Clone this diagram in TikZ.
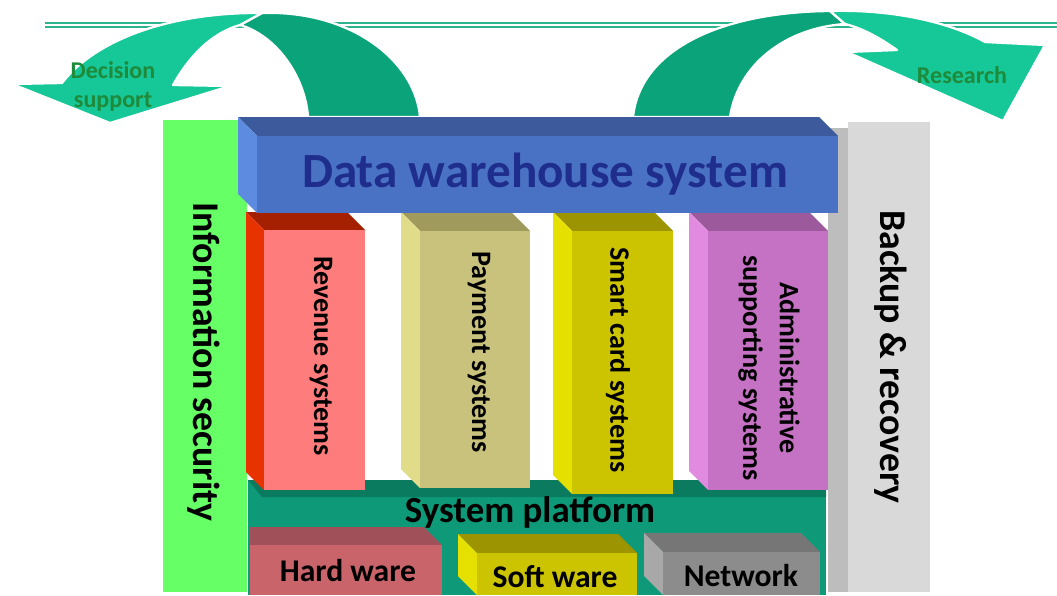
\documentclass[tikz,border=0pt]{standalone}
\usepackage{fontspec}
\setmainfont{Carlito}
\usetikzlibrary{calc}

\definecolor{rulegreen}{HTML}{2DB48E}
\definecolor{arrowfront}{HTML}{16C797}
\definecolor{arrowback}{HTML}{0BA37A}
\definecolor{labelgreen}{HTML}{1E8A3A}
\definecolor{infogreen}{HTML}{66FF66}
\definecolor{backfront}{HTML}{D9D9D9}
\definecolor{backside}{HTML}{BDBDBD}
\definecolor{dwfront}{HTML}{4A72C4}
\definecolor{dwtop}{HTML}{3D5B9C}
\definecolor{dwside}{HTML}{5C8BE0}
\definecolor{dwtext}{HTML}{1F2E8C}
\definecolor{revfront}{HTML}{FF7C7C}
\definecolor{revtop}{HTML}{A52000}
\definecolor{revside}{HTML}{E63300}
\definecolor{payfront}{HTML}{C8C27C}
\definecolor{paytop}{HTML}{A09A5C}
\definecolor{payside}{HTML}{E0DC8A}
\definecolor{smfront}{HTML}{CCC400}
\definecolor{smtop}{HTML}{9C9400}
\definecolor{smside}{HTML}{E6E000}
\definecolor{admfront}{HTML}{C572C5}
\definecolor{admtop}{HTML}{9C5A9C}
\definecolor{admside}{HTML}{E08AE0}
\definecolor{platform}{HTML}{0E9A78}
\definecolor{platformtop}{HTML}{0B7B5F}
\definecolor{hwfront}{HTML}{C8646A}
\definecolor{hwtop}{HTML}{A05058}
\definecolor{netfront}{HTML}{8C8C8C}
\definecolor{nettop}{HTML}{767676}
\definecolor{netside}{HTML}{A8A8A8}

% 3D slab: front x1,y1,x2,y2, depth, front, top, side colour
\newcommand{\slab}[8]{%
  \fill[#7] (#1-#5,#2-#5) -- (#3-#5,#2-#5) -- (#3,#2) -- (#1,#2) -- cycle;
  \fill[#8] (#1-#5,#2-#5) -- (#1,#2) -- (#1,#4) -- (#1-#5,#4-#5) -- cycle;
  \fill[#6] (#1,#2) rectangle (#3,#4);
}

\begin{document}
\begin{tikzpicture}[x=0.02cm, y=-0.02cm]
% -------------------------------------------------
\tikzset{
  band/.style={draw=white, line width=1.3pt, line join=round},
  lbl/.style={inner sep=0pt, align=center},
  vlbl/.style={lbl, rotate=-90},
  titlefont/.style={font=\bfseries\fontsize{28}{32}\selectfont},
  barfont/.style={font=\bfseries\fontsize{21.5}{25}\selectfont},
  pillarfont/.style={font=\bfseries\fontsize{16}{21}\selectfont},
  basefont/.style={font=\bfseries\fontsize{18}{22}\selectfont},
  arrowfont/.style={font=\bfseries\fontsize{13.7}{16.5}\selectfont}
}
% -------------------------------------------------
\useasboundingbox (0,0) rectangle (1057,595);
\fill[white] (0,0) rectangle (1057,595);

% top rule
\draw[rulegreen, line width=1pt] (45,23) -- (1057,23);
\draw[rulegreen, line width=1pt] (45,27) -- (1057,27);

% side bars
\fill[infogreen] (163,120) rectangle (247,592);
\fill[backside] (828,128) rectangle (848,592);
\fill[backfront] (848,122) rectangle (930,592);

% curved arrows
\path[band, fill=arrowback] (308,117) .. controls (305,75) and (275,35) .. (240,25)
  -- (262,13) .. controls (350,10) and (415,60) .. (420,117) -- cycle;
\path[band, fill=arrowfront] (262,13) .. controls (170,12) and (95,40) .. (62,83)
  -- (12,84) -- (110,123) -- (230,86) -- (173,85)
  .. controls (190,55) and (212,33) .. (240,25) -- cycle;
\path[band, fill=arrowback] (633,117) .. controls (640,50) and (720,12) .. (830,11)
  -- (845,24) .. controls (785,28) and (738,65) .. (730,117) -- cycle;
\path[band, fill=arrowfront] (830,11) .. controls (900,9) and (955,25) .. (985,42)
  -- (1045,45) -- (1003,121) -- (847,52) -- (897,50)
  .. controls (880,38) and (862,28) .. (845,24) -- cycle;

% platform
\fill[platform] (248,480) rectangle (826,595);
\fill[platformtop] (248,480) -- (826,480) -- (826,497) -- (262,497) -- cycle;

% pillars
\slab{264}{230}{365}{490}{18}{revfront}{revtop}{revside}
\slab{420}{231}{530}{488}{19}{payfront}{paytop}{payside}
\slab{572}{231}{673}{494}{19}{smfront}{smtop}{smside}
\slab{708}{231}{828}{490}{19}{admfront}{admtop}{admside}

% base blocks
\fill[hwtop] (250,527) -- (424,527) -- (442,545) -- (250,545) -- cycle;
\fill[hwfront] (250,545) rectangle (442,595);
\slab{477}{553}{637}{595}{19}{smfront}{smtop}{smside}
\slab{663}{552}{820}{595}{19}{netfront}{nettop}{netside}

% roof
\slab{257}{136}{838}{213}{19}{dwfront}{dwtop}{dwside}

% labels
\node[lbl, titlefont, text=dwtext] (dws) at (545,174) {Data warehouse system};
\node[vlbl, barfont] (sec) at (204,362) {Information security};
\node[vlbl, barfont] (bak) at (891,357) {Backup \& recovery};
\node[vlbl, pillarfont] (rev) at (321,356) {Revenue systems};
\node[vlbl, pillarfont] (pay) at (479,352) {Payment systems};
\node[vlbl, pillarfont] (smc) at (618,360) {Smart card systems};
\node[vlbl, pillarfont] (adm) at (769,368) {Administrative\\supporting systems};
\node[lbl, font=\bfseries\fontsize{21}{25}\selectfont] (plf) at (530,512) {System platform};
\node[lbl, basefont] (hw) at (348,571) {Hard ware};
\node[lbl, basefont] (sw) at (555,577) {Soft ware};
\node[lbl, basefont] (net) at (741,576) {Network};
\node[lbl, arrowfont, text=labelgreen] (dec) at (113,86) {Decision\\support};
\node[lbl, arrowfont, text=labelgreen] (res) at (962,75) {Research};
\end{tikzpicture}
\end{document}
